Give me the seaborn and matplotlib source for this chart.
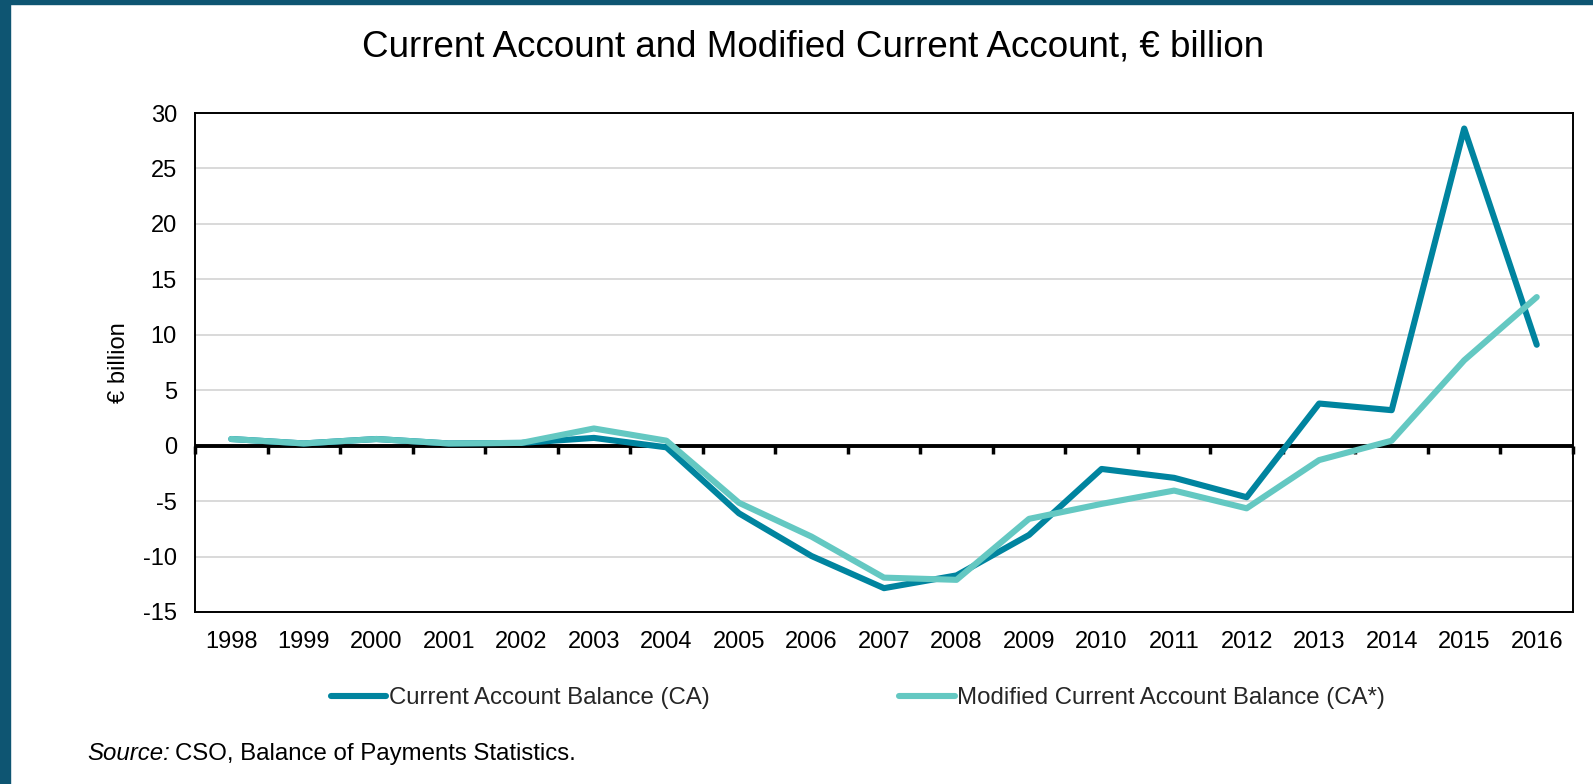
import matplotlib
matplotlib.use("Agg")
import matplotlib.pyplot as plt
from matplotlib.patches import Rectangle
import numpy as np
import pandas as pd
import seaborn as sns

sns.set_theme(style="white")
plt.rcParams['font.family'] = ['Liberation Sans', 'DejaVu Sans']
plt.rcParams['axes.unicode_minus'] = False

# values, € billion
years = list(range(1998, 2017))
ca = [0.6, 0.2, 0.6, 0.2, 0.25, 0.7, -0.15, -6.1, -9.95, -12.85, -11.7,
      -8.05, -2.1, -2.9, -4.65, 3.8, 3.2, 28.6, 9.1]
ca_star = [0.6, 0.2, 0.6, 0.2, 0.25, 1.55, 0.45, -5.15, -8.2, -11.9, -12.1,
           -6.6, -5.25, -4.05, -5.65, -1.3, 0.45, 7.7, 13.4]
series_names = ["Current Account Balance (CA)", "Modified Current Account Balance (CA*)"]
colors = ["#00849F", "#64C8C2"]

df = pd.DataFrame({
    "year": years * 2,
    "value": ca + ca_star,
    "series": [series_names[0]] * len(years) + [series_names[1]] * len(years),
})

fig = plt.figure(figsize=(15.93, 7.84), dpi=100)
ax = fig.add_axes([195 / 1593, 1 - 612 / 784, 1378 / 1593, 499 / 784])

sns.lineplot(data=df, x="year", y="value", hue="series", palette=colors,
             linewidth=4.4, ax=ax, zorder=5, solid_capstyle="round")

ymin, ymax = -15, 30
ax.set_xlim(years[0] - 0.5, years[-1] + 0.5)
ax.set_ylim(ymin, ymax)
ax.set_yticks(np.arange(ymin, ymax + 1, 5))
ax.set_xticks(years)
ax.set_xticklabels([str(y) for y in years])
ax.tick_params(axis="both", length=0, labelsize=17, colors="black")
ax.tick_params(axis="y", pad=13)
ax.tick_params(axis="x", pad=14)
ax.grid(axis="y", color="#D9D9D9", linewidth=1.4)
ax.grid(axis="x", visible=False)
for sp in ax.spines.values():
    sp.set_visible(True)
    sp.set_color("black")
    sp.set_linewidth(1.4)

ax.set_xlabel("")
ax.set_ylabel("€ billion", fontsize=17, color="black")
ax.yaxis.set_label_coords(-0.047, 0.5)

# zero axis line with category tick marks (Excel style)
ax.axhline(0, color="black", linewidth=2.8, zorder=4)
zero_ax = ax.secondary_xaxis((0 - ymin) / (ymax - ymin))
zero_ax.set_xticks(np.arange(years[0] - 0.5, years[-1] + 1, 1))
zero_ax.tick_params(axis="x", direction="out", length=6, width=2.5,
                    labelbottom=False, labeltop=False, color="black")
for sp in zero_ax.spines.values():
    sp.set_visible(False)

handles, labels = ax.get_legend_handles_labels()
ax.get_legend().remove()
fig.legend(handles, labels, loc="center", bbox_to_anchor=(858 / 1593, 1 - 698 / 784),
           ncol=2, frameon=False, fontsize=17.3, handlelength=2.3, handletextpad=0.1,
           columnspacing=7.9)

fig.text(813 / 1593, 1 - 47 / 784, "Current Account and Modified Current Account, € billion",
         ha="center", va="center", fontsize=26.5, color="black")
src = fig.text(87 / 1593, 1 - 754 / 784, "Source:", style="italic", ha="left", va="center",
               fontsize=17.3, color="black")
renderer = fig.canvas.get_renderer()
src_end = src.get_window_extent(renderer).x1
fig.text(src_end / 1593 + 5 / 1593, 1 - 754 / 784, "CSO, Balance of Payments Statistics.",
         ha="left", va="center", fontsize=17.3, color="black")

# dark frame at left and top edges
fig.patches.append(Rectangle((0, 0), 10 / 1593, 1, transform=fig.transFigure,
                             color="#0E5572", zorder=10))
fig.patches.append(Rectangle((0, 1 - 4 / 784), 1, 4 / 784, transform=fig.transFigure,
                             color="#0E5572", zorder=10))

fig.savefig("out.png", dpi=100)
